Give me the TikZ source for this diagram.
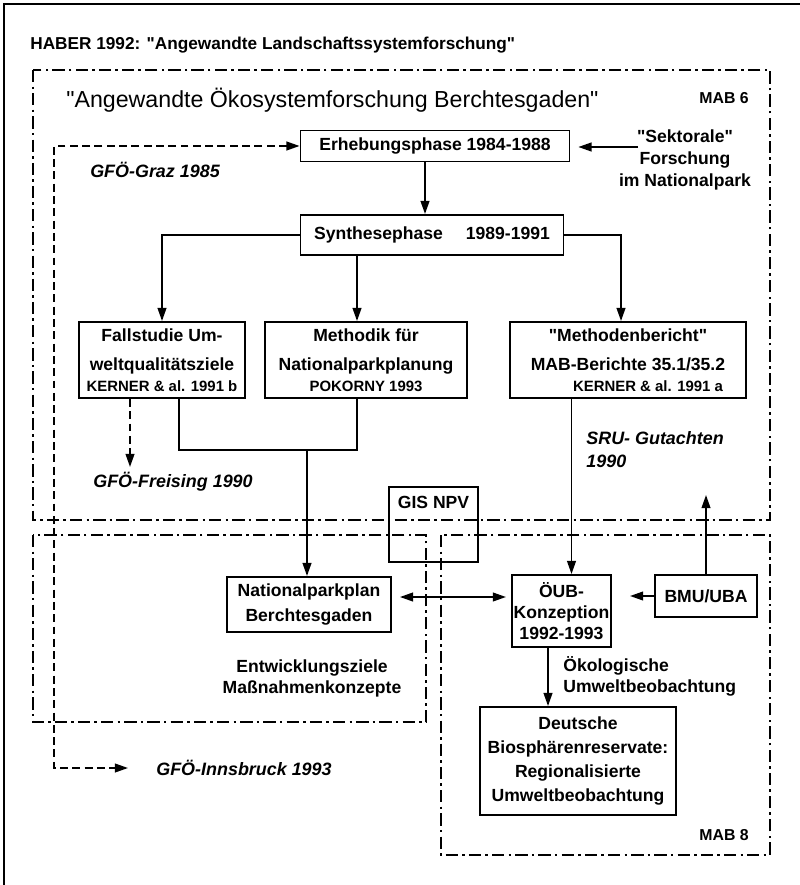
\documentclass[tikz,border=0pt]{standalone}
\usepackage{fontspec}
\setmainfont{Liberation Sans}[Ligatures=TeXOff]
\usetikzlibrary{arrows.meta}
\tikzset{
  kasten/.style={draw, line width=1.1pt, align=center, inner sep=2pt, font=\bfseries\fontsize{10}{12}\selectfont},
  schrift/.style={align=center, inner sep=0pt, font=\bfseries\fontsize{10}{12}\selectfont},
  kursiv/.style={inner sep=0pt, font=\bfseries\itshape\fontsize{10.2}{13}\selectfont},
  strichpunkt/.style={line width=1.1pt, dash pattern=on 7pt off 2.4pt on 1.4pt off 2.4pt},
  gestrichelt/.style={line width=1.1pt, dash pattern=on 4.5pt off 2.5pt},
  pfeil/.style={line width=1pt, -{Triangle[length=7.5pt,width=5pt]}},
  doppelpfeil/.style={line width=1pt, {Triangle[length=7.5pt,width=5pt]}-{Triangle[length=7.5pt,width=5pt]}},
  linie/.style={line width=1pt},
}
\newcommand{\klein}{\fontsize{8.5}{10}\selectfont}
\begin{document}
\begin{tikzpicture}[x=0.02cm, y=-0.02cm]
\useasboundingbox (0,0) rectangle (800,885);
\draw[line width=1.6pt] (4,885) -- (4,4) -- (800,4);

\node[schrift, anchor=west, font=\bfseries\fontsize{9.8}{11}\selectfont] (haber) at (30,45) {HABER 1992: "Angewandte Landschaftssystemforschung"};

\draw[strichpunkt] (33,70) rectangle (770,520);
\draw[strichpunkt] (33,535) rectangle (426,722);
\draw[strichpunkt] (441,535) rectangle (770,855);

\node[anchor=west, inner sep=0pt, font=\fontsize{13.2}{15}\selectfont] (titel) at (66,100) {"Angewandte Ökosystemforschung Berchtesgaden"};
\node[schrift, anchor=east, font=\bfseries\fontsize{9}{10}\selectfont] (mabsechs) at (749,98) {MAB 6};
\node[schrift, anchor=east, font=\bfseries\fontsize{9}{10}\selectfont] (mabacht) at (749,835) {MAB 8};

\node[kasten, minimum width=5.38cm, minimum height=0.62cm] (erhebung) at (435,146) {Erhebungsphase 1984-1988};
\node[kasten, minimum width=5.26cm, minimum height=0.8cm] (synthese) at (432,235) {Synthesephase\hspace{1.3em}1989-1991};
\node[schrift, font=\bfseries\fontsize{10}{12.5}\selectfont] (sektoral) at (685,160) {"Sektorale"\\Forschung\\im Nationalpark};
\coordinate (sektpunkt) at (638,147);

\node[kasten, minimum width=3.32cm, minimum height=1.52cm] (fallstudie) at (162,360) {Fallstudie Um-\\[4.5pt]weltqualitätsziele\\{\klein KERNER \& al. 1991 b}};
\node[kasten, minimum width=4.04cm, minimum height=1.52cm] (methodik) at (366,360) {Methodik für\\[4.5pt]Nationalparkplanung\\{\klein POKORNY 1993}};
\node[kasten, minimum width=4.72cm, minimum height=1.52cm] (bericht) at (628,360) {"Methodenbericht"\\[4.5pt]MAB-Berichte 35.1/35.2\\\hspace*{0.8cm}{\klein KERNER \& al. 1991 a}};

\node[kasten, inner sep=3pt, text height=9pt, text depth=27.7pt, minimum width=1.78cm] (gis) at (433.5,524.5) {GIS NPV};
\node[kasten, minimum width=3.28cm, minimum height=1.1cm] (npplan) at (309,604.5) {Nationalparkplan\\[1.7pt]Berchtesgaden};
\node[kasten, inner xsep=1pt, minimum width=1.94cm, minimum height=1.44cm] (oeub) at (561.5,611) {ÖUB-\\Konzeption\\1992-1993};
\node[kasten, minimum width=2.04cm, minimum height=0.84cm] (bmu) at (706,596) {BMU/UBA};
\node[kasten, minimum width=3.92cm, minimum height=2.16cm, font=\bfseries\fontsize{10}{13.7}\selectfont] (biosph) at (578,761) {Deutsche\\Biosphärenreservate:\\Regionalisierte\\Umweltbeobachtung};

\node[kursiv] (graz) at (155,170) {GFÖ-Graz 1985};
\node[kursiv] (freising) at (173,482) {GFÖ-Freising 1990};
\node[kursiv, anchor=west, align=left] (sru) at (586,450) {SRU- Gutachten\\1990};
\node[kursiv, anchor=west] (innsbruck) at (156,768) {GFÖ-Innsbruck 1993};
\node[schrift] (entw) at (312,678) {Entwicklungsziele\\Maßnahmenkonzepte};
\node[schrift, anchor=west, align=left] (oekol) at (563,676) {Ökologische\\Umweltbeobachtung};

\coordinate (grazecke) at (54,146);
\coordinate (innsecke) at (54,768);
\coordinate (freisspitze) at (130,467);
\coordinate (knoten) at (307,450);
\coordinate (bmuspitze) at (706,495);

\draw[pfeil, shorten >=4.5pt] (sektpunkt) -- (sektpunkt -| erhebung.east);
\draw[gestrichelt, doppelpfeil, shorten >=0.56cm] (erhebung.west) -- (grazecke) -- (innsecke) -- (innsbruck.west);
\draw[pfeil] ([xshift=-0.2cm]erhebung.south) -- ([xshift=-0.2cm]erhebung.south |- synthese.north);
\draw[pfeil] (synthese.west) -| (fallstudie.north);
\draw[pfeil] ([xshift=-0.18cm]methodik.north |- synthese.south) -- ([xshift=-0.18cm]methodik.north);
\draw[pfeil] (synthese.east) -| ([xshift=-0.14cm]bericht.north);
\draw[gestrichelt, pfeil] (fallstudie.south -| freisspitze) -- (freisspitze);
\draw[linie] ([xshift=0.34cm]fallstudie.south) |- (knoten);
\draw[linie] ([xshift=-0.18cm]methodik.south) |- (knoten);
\draw[pfeil] (knoten) -- (knoten |- npplan.north);
\draw[pfeil] ([xshift=0.2cm]oeub.north |- bericht.south) -- ([xshift=0.2cm]oeub.north);
\draw[doppelpfeil, shorten <=0.16cm, shorten >=0.1cm] ([yshift=0.15cm]npplan.east) -- ([yshift=0.15cm]npplan.east -| oeub.west);
\draw[pfeil, shorten >=0.36cm] (bmu.west) -- (bmu.west -| oeub.east);
\draw[pfeil] (bmu.north) -- (bmuspitze);
\draw[pfeil] ([xshift=-0.27cm]oeub.south) -- ([xshift=-0.27cm]oeub.south |- biosph.north);
\end{tikzpicture}
\end{document}
